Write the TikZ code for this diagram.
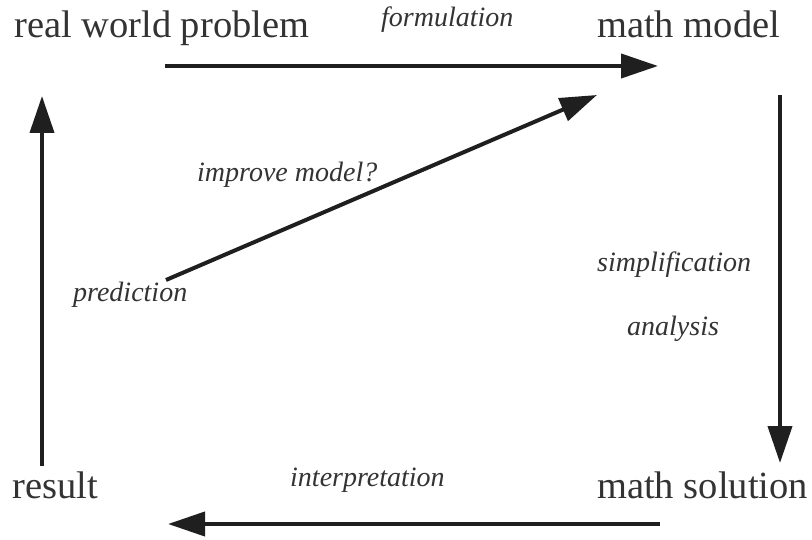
\documentclass[tikz,border=0pt]{standalone}
\usepackage{fontspec}
\setmainfont{Liberation Serif}
\usetikzlibrary{arrows.meta}
\begin{document}
\begin{tikzpicture}[x=1pt,y=-1pt,
  big/.style={anchor=base west,inner sep=0pt,text=black!80,font=\fontsize{38.5}{40}\selectfont},
  lbl/.style={anchor=base west,inner sep=0pt,text=black!80,font=\fontsize{28}{30}\selectfont\itshape},
  conn/.style={line width=4pt,draw=black!88,-{Triangle[length=37pt,width=24pt]}}]
\useasboundingbox (0,0) rectangle (812,540);
\node[big] (rwp) at (14,38) {real world problem};
\node[big] (mm) at (597,38) {math model};
\node[big] (res) at (12,498) {result};
\node[big] (ms) at (597,498) {math solution};
\node[lbl] (form) at (381,27) {formulation};
\node[lbl] (impr) at (197,182) {improve model?};
\node[lbl] (pred) at (73,302) {prediction};
\node[lbl] (simp) at (597,272) {simplification};
\node[lbl] (anal) at (627,335) {analysis};
\node[lbl] (interp) at (290,486) {interpretation};
\coordinate (a1) at (165,66); \coordinate (a2) at (658,66);
\coordinate (b1) at (780,95); \coordinate (b2) at (780,463);
\coordinate (c1) at (660,524); \coordinate (c2) at (168,524);
\coordinate (d1) at (42,466); \coordinate (d2) at (42,96);
\coordinate (e1) at (166,280); \coordinate (e2) at (597,95);
\draw[conn] (a1) -- (a2);
\draw[conn] (b1) -- (b2);
\draw[conn] (c1) -- (c2);
\draw[conn] (d1) -- (d2);
\draw[conn] (e1) -- (e2);
\end{tikzpicture}
\end{document}
